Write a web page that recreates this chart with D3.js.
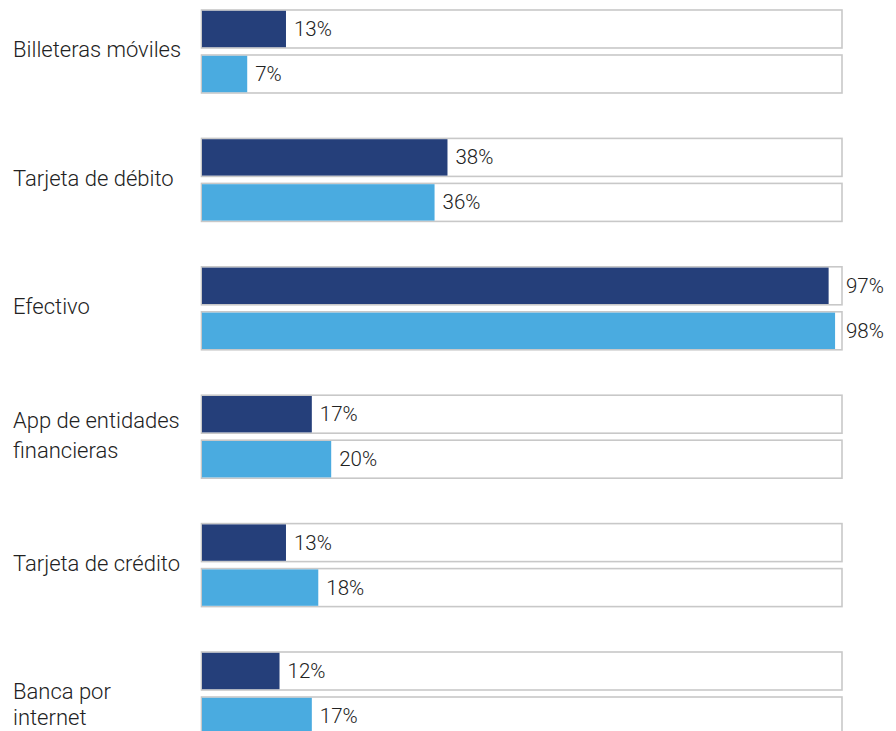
<!DOCTYPE html>
<html>
<head>
<meta charset="utf-8">
<script src="https://cdn.jsdelivr.net/npm/d3@7"></script>
<style>
  html, body { margin: 0; padding: 0; background: #ffffff; }
  svg { display: block; }
</style>
</head>
<body>
<svg id="chart" width="896" height="731"></svg>
<script>
// Medios de pago: two series per category, shown as percentages
const categories = [
  ["Billeteras móviles"],
  ["Tarjeta de débito"],
  ["Efectivo"],
  ["App de entidades", "financieras"],
  ["Tarjeta de crédito"],
  ["Banca por", "internet"]
];
const seriesKeys = ["serie1", "serie2"];
const serie1 = [13, 38, 97, 17, 13, 12];
const serie2 = [7, 36, 98, 20, 18, 17];
const seriesColors = ["#253f7a", "#4aabe0"];

const svg = d3.select("#chart");
const trackLeft = 201.5, trackRight = 842;

const catKeys = categories.map(c => c.join(" "));
const y = d3.scaleBand()
  .domain(catKeys)
  .range([10, 735])
  .paddingInner(0.3536)
  .paddingOuter(0);

const ySub = d3.scaleBand()
  .domain(seriesKeys)
  .range([0, y.bandwidth()])
  .paddingInner(0.1556)
  .paddingOuter(0);

const x = d3.scaleLinear().domain([0, 100]).range([trackLeft + 0.5, trackLeft + 0.5 + 646]);

const rows = catKeys.map((k, i) => ({
  key: k,
  lines: categories[i],
  values: [serie1[i], serie2[i]]
}));

const groups = svg.selectAll("g.cat")
  .data(rows)
  .join("g")
  .attr("class", "cat")
  .attr("transform", d => `translate(0,${y(d.key)})`);

// category labels on the left
const labelNudge = { "Banca por internet": 14 };
groups.append("text")
  .attr("font-family", "Roboto, 'Liberation Sans', Arial, sans-serif")
  .attr("font-weight", 300)
  .attr("font-size", 22)
  .attr("fill", "#222222")
  .attr("transform", d => {
    const mid = y.bandwidth() / 2;
    const lh = 30;
    const first = mid + 6 - (d.lines.length - 1) * lh / 2 + (labelNudge[d.key] || 0);
    return `translate(13,${first})`;
  })
  .selectAll("tspan")
  .data(d => d.lines.map((t, j) => ({ t, j, n: d.lines.length, key: d.key })))
  .join("tspan")
  .attr("x", 0)
  .attr("dy", d => d.j === 0 ? 0 : (d.key === "Banca por internet" ? 26 : 30))
  .text(d => d.t);

const bars = groups.selectAll("g.bar")
  .data(d => d.values.map((v, j) => ({ v, s: seriesKeys[j], j })))
  .join("g")
  .attr("class", "bar")
  .attr("transform", d => `translate(0,${ySub(d.s)})`);

// background track
bars.append("rect")
  .attr("x", trackLeft)
  .attr("y", 0)
  .attr("width", trackRight - trackLeft)
  .attr("height", ySub.bandwidth())
  .attr("fill", "#ffffff")
  .attr("stroke", "#c8c8c8")
  .attr("stroke-width", 1.6);

// value bar
bars.append("rect")
  .attr("x", x(0))
  .attr("y", 0.8)
  .attr("width", d => x(d.v) - x(0))
  .attr("height", ySub.bandwidth() - 1.6)
  .attr("fill", d => seriesColors[d.j]);

// value labels
bars.append("text")
  .attr("x", d => {
    const end = x(d.v);
    return end + 40 > trackRight ? trackRight + 4 : end + 8;
  })
  .attr("y", ySub.bandwidth() / 2 + 7)
  .attr("font-family", "Roboto, 'Liberation Sans', Arial, sans-serif")
  .attr("font-weight", 300)
  .attr("font-size", 20.5)
  .attr("fill", "#222222")
  .text(d => d.v + "%");
</script>
</body>
</html>
